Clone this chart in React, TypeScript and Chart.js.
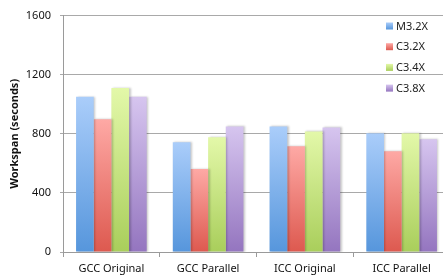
import React, { useEffect, useRef } from "react";
import { Chart, registerables } from "chart.js";

Chart.register(...registerables);

const categories = ["GCC Original", "GCC Parallel", "ICC Original", "ICC Parallel"];
const seriesNames = ["M3.2X", "C3.2X", "C3.4X", "C3.8X"];
const m32x = [1050, 742, 850, 803];
const c32x = [898, 562, 716, 682];
const c34x = [1110, 776, 816, 803];
const c38x = [1050, 850, 843, 763];
const yTicks = [0, 400, 800, 1200, 1600];

const topColors = ["#aacdfa", "#fea9a5", "#e3f8a9", "#d6c5ef"];
const bottomColors = ["#5696dc", "#dd594f", "#a9ce5b", "#9475bf"];

const FONT = "'Noto Sans', 'DejaVu Sans', sans-serif";

function gradientFill(idx: number) {
  return (ctx: any) => {
    const chart = ctx.chart;
    const ys = chart.scales && chart.scales.y;
    if (!chart.chartArea || !ys || ctx.type !== "data") return topColors[idx];
    const v = ctx.raw as number;
    const top = ys.getPixelForValue(v);
    const bottom = ys.getPixelForValue(0);
    if (!isFinite(top) || !isFinite(bottom) || top === bottom) return topColors[idx];
    const g = chart.ctx.createLinearGradient(0, top, 0, bottom);
    g.addColorStop(0, topColors[idx]);
    g.addColorStop(1, bottomColors[idx]);
    return g;
  };
}

const legendPlugin = {
  id: "customLegend",
  afterDraw(chart: any) {
    const ctx = chart.ctx;
    ctx.save();
    const x = 386;
    const y0 = 26;
    const step = 20.7;
    chart.data.datasets.forEach((ds: any, i: number) => {
      const cy = y0 + i * step;
      const g = ctx.createLinearGradient(0, cy - 3.5, 0, cy + 3.5);
      g.addColorStop(0, topColors[i]);
      g.addColorStop(1, bottomColors[i]);
      ctx.fillStyle = g;
      ctx.fillRect(x, cy - 3.5, 7, 7);
      ctx.fillStyle = "#222";
      ctx.font = `11px ${FONT}`;
      ctx.textBaseline = "middle";
      ctx.textAlign = "left";
      ctx.fillText(ds.label, x + 10, cy + 0.5);
    });
    ctx.restore();
  },
};

const shadowPlugin = {
  id: "barShadow",
  beforeDatasetsDraw(chart: any) {
    const ctx = chart.ctx;
    ctx.save();
    ctx.shadowColor = "rgba(0,0,0,0.22)";
    ctx.shadowBlur = 2;
    ctx.shadowOffsetX = 1.5;
    ctx.shadowOffsetY = 0;
  },
  afterDatasetsDraw(chart: any) {
    chart.ctx.restore();
  },
};

export default function App() {
  const canvasRef = useRef<HTMLCanvasElement | null>(null);

  useEffect(() => {
    document.body.style.margin = "0";
    const canvas = canvasRef.current;
    if (!canvas) return;
    const values = [m32x, c32x, c34x, c38x];
    const chart = new Chart(canvas, {
      type: "bar",
      data: {
        labels: categories,
        datasets: seriesNames.map((name, i) => ({
          label: name,
          data: values[i],
          backgroundColor: gradientFill(i),
          borderWidth: 0,
          categoryPercentage: 0.73,
          barPercentage: 1.0,
        })),
      },
      options: {
        animation: false,
        responsive: false,
        maintainAspectRatio: false,
        devicePixelRatio: 1,
        layout: { padding: { top: 13, left: 0, right: 0, bottom: 0 } },
        plugins: {
          legend: { display: false },
          tooltip: { enabled: false },
          title: { display: false },
        },
        scales: {
          x: {
            afterFit: (s: any) => {
              s.height = 25;
            },
            grid: {
              offset: true,
              drawOnChartArea: false,
              drawTicks: true,
              tickLength: 5,
              color: "#9a9a9a",
            },
            border: { display: true, color: "#9a9a9a" },
            ticks: {
              color: "#111",
              font: { family: FONT, size: 11 },
              padding: 5,
              maxRotation: 0,
            },
          },
          y: {
            min: 0,
            max: 1600,
            afterFit: (s: any) => {
              s.width = 63;
            },
            afterBuildTicks: (s: any) => {
              s.ticks = yTicks.map((v) => ({ value: v }));
            },
            grid: {
              color: "#a9a9a9",
              tickLength: 3,
              drawTicks: true,
            },
            border: { display: true, color: "#9a9a9a" },
            ticks: {
              color: "#111",
              font: { family: FONT, size: 11 },
              padding: 9,
              callback: (v: any) => String(v),
            },
            title: {
              display: true,
              text: "Workspan (seconds)",
              color: "#111",
              font: { family: FONT, size: 11, weight: "bold" },
              padding: { top: 8, bottom: 0 },
            },
          },
        },
      },
      plugins: [shadowPlugin, legendPlugin],
    });
    return () => chart.destroy();
  }, []);

  return (
    <div style={{ width: 443, height: 277, overflow: "hidden", position: "relative", background: "#fff" }}>
      <canvas ref={canvasRef} width={450} height={277} style={{ display: "block", width: 450, height: 277 }} />
    </div>
  );
}
